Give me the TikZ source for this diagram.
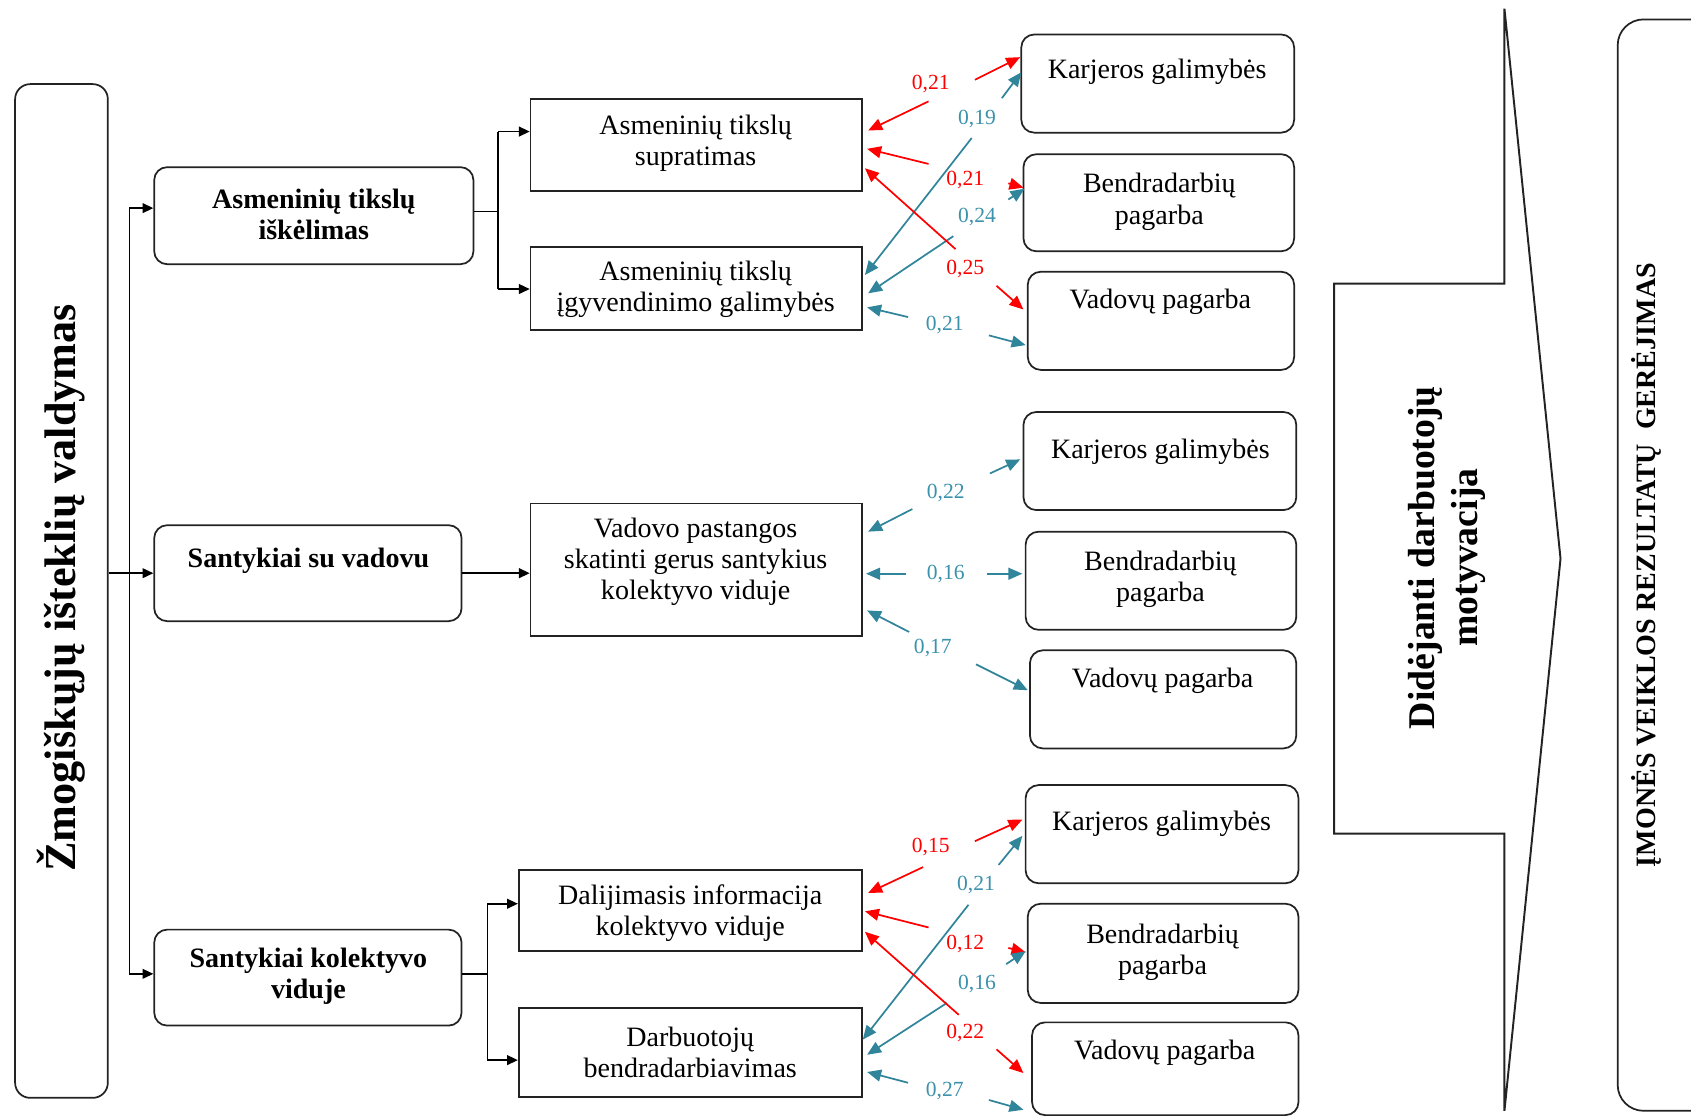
\documentclass[tikz,border=0pt]{standalone}
\usepackage{fontspec}
\setmainfont{Liberation Serif}
\usetikzlibrary{arrows.meta,fit}
\definecolor{cred}{RGB}{255,0,0}
\definecolor{cteal}{RGB}{49,133,155}
\definecolor{cteallbl}{RGB}{60,146,172}
\definecolor{cline}{RGB}{35,35,35}
\newcommand\fsmain{\fontsize{13}{14.5}\selectfont}
\newcommand\mycn[8]{%
  \coordinate (#2m) at (#3);
  \coordinate (#2a) at (#4);
  \coordinate (#2b) at (#7);
  \coordinate (#2r) at (#8);
  \draw[#1ln] (#2a) -- (#2m);
  \draw[#1ln] (#2b) -- (#2r);
  \node[#1lbl] (#2l) at (#5) {#6};
}
\begin{document}
\begin{tikzpicture}[x=0.5pt,y=-0.5pt,
  rbox/.style={draw=cline, rounded corners=6pt, line width=0.8pt, inner sep=0pt},
  sbox/.style={draw=cline, line width=0.8pt, inner sep=0pt},
  txt/.style={align=center, font=\fsmain, inner sep=0pt},
  btxt/.style={align=center, font=\fsmain\bfseries, inner sep=0pt},
  blk/.style={draw=black, line width=0.8pt},
  blkarrow/.style={blk, -{Triangle[length=5pt,width=4.5pt]}},
  redln/.style={draw=cred, line width=0.8pt, -{Triangle[length=6.5pt,width=5.5pt]}},
  tealln/.style={draw=cteal, line width=0.8pt, -{Triangle[length=6.5pt,width=5.5pt]}},
  redlbl/.style={text=cred, font=\fontsize{10}{12}\selectfont, inner sep=0pt},
  teallbl/.style={text=cteallbl, font=\fontsize{10}{12}\selectfont, inner sep=0pt},
]
\useasboundingbox (0,0) rectangle (1568,1036);
\fill[white] (0,0) rectangle (1568,1036);
\clip (0,0) rectangle (1568,1036);

% left big box
\node[rbox, rounded corners=7pt, fit={(14,78)(100,1018)}] (Lbig) {};
\node[rotate=90, inner sep=0pt, font=\fontsize{20.5}{24}\selectfont\bfseries] (Lbigt) at (57,545) {Žmogiškųjų išteklių valdymas};

% level 1 boxes
\node[rbox, fit={(143,155)(439,245)}] (L1) {};
\node[btxt] (L1t) at (291,199) {Asmeninių tikslų\\iškėlimas};
\node[rbox, fit={(143,487)(428,576)}] (L2) {};
\node[btxt] (L2t) at (286,520) {Santykiai su vadovu};
\node[rbox, fit={(143,862)(428,951)}] (L3) {};
\node[btxt] (L3t) at (286,905) {Santykiai kolektyvo\\viduje};

% level 2 boxes
\node[sbox, fit={(492,92)(799,177)}] (M1) {};
\node[txt] (M1t) at (645,133) {Asmeninių tikslų\\supratimas};
\node[sbox, fit={(492,229)(799,306)}] (M2) {};
\node[txt] (M2t) at (645,268) {Asmeninių tikslų\\įgyvendinimo galimybės};
\node[sbox, fit={(492,467)(799,590)}] (M3) {};
\node[txt] (M3t) at (645,521) {Vadovo pastangos\\skatinti gerus santykius\\kolektyvo viduje};
\node[sbox, fit={(481,807)(799,882)}] (M4) {};
\node[txt] (M4t) at (640,847) {Dalijimasis informacija\\kolektyvo viduje};
\node[sbox, fit={(481,935)(799,1017)}] (M5) {};
\node[txt] (M5t) at (640,976) {Darbuotojų\\bendradarbiavimas};

% right boxes
\node[rbox, fit={(947,32)(1200,123)}] (R1) {};
\node[txt] (R1t) at (1073,67) {Karjeros galimybės};
\node[rbox, fit={(949,143)(1200,233)}] (R2) {};
\node[txt] (R2t) at (1075,187) {Bendradarbių\\pagarba};
\node[rbox, fit={(953,252)(1200,343)}] (R3) {};
\node[txt] (R3t) at (1076,280) {Vadovų pagarba};

\node[rbox, fit={(949,382)(1202,473)}] (R4) {};
\node[txt] (R4t) at (1076,419) {Karjeros galimybės};
\node[rbox, fit={(951,493)(1202,584)}] (R5) {};
\node[txt] (R5t) at (1076,537) {Bendradarbių\\pagarba};
\node[rbox, fit={(955,603)(1202,694)}] (R6) {};
\node[txt] (R6t) at (1078,631) {Vadovų pagarba};

\node[rbox, fit={(951,728)(1204,819)}] (R7) {};
\node[txt] (R7t) at (1077,764) {Karjeros galimybės};
\node[rbox, fit={(953,838)(1204,930)}] (R8) {};
\node[txt] (R8t) at (1078,883) {Bendradarbių\\pagarba};
\node[rbox, fit={(957,948)(1204,1034)}] (R9) {};
\node[txt] (R9t) at (1080,976) {Vadovų pagarba};

% black tree connectors
\coordinate (trT) at (120,193);
\coordinate (trB) at (120,903);
\draw[blk] (trT) -- (trB);
\draw[blkarrow] (Lbig.east |- L2.west) -- (L2.west);
\draw[blkarrow] (trT) -- (L1.west |- trT);
\draw[blkarrow] (trB) -- (L3.west |- trB);

\coordinate (b1) at (462,196);
\coordinate (b1t) at (462,122);
\coordinate (b1b) at (462,268);
\draw[blk] (L1.east |- b1) -- (b1);
\draw[blk] (b1t) -- (b1b);
\draw[blkarrow] (b1t) -- (M1.west |- b1t);
\draw[blkarrow] (b1b) -- (M2.west |- b1b);

\draw[blkarrow] (L2.east) -- (M3.west |- L2.east);

\coordinate (b3) at (452,903);
\coordinate (b3t) at (452,838);
\coordinate (b3b) at (452,983);
\draw[blk] (L3.east |- b3) -- (b3);
\draw[blk] (b3t) -- (b3b);
\draw[blkarrow] (b3t) -- (M4.west |- b3t);
\draw[blkarrow] (b3b) -- (M5.west |- b3b);

% coloured connectors, group 1
\mycn{red}{c1}{805,121}{861,94}{863,78}{0,21}{904,74}{946,53}
\mycn{teal}{c2}{802,255}{901,128}{906,110}{0,19}{929,91}{947,67}
\mycn{red}{c3}{804,138}{861,152}{895,167}{0,21}{935,170}{949,174}
\mycn{teal}{c4}{805,272}{884,219}{906,201}{0,24}{935,185}{950,175}
\mycn{red}{c5}{802,156}{886,231}{895,249}{0,25}{924,265}{949,287}
\mycn{teal}{c6}{804,285}{842,294}{876,301}{0,21}{917,311}{951,320}
% group 2
\mycn{teal}{c7}{805,493}{846,472}{877,457}{0,22}{918,439}{946,426}
\mycn{teal}{c8}{803,532}{840,532}{877,532}{0,16}{915,532}{948,532}
\mycn{teal}{c9}{804,566}{843,586}{865,601}{0,17}{905,616}{953,640}
% group 3
\mycn{red}{c10}{805,828}{856,804}{863,785}{0,15}{904,780}{948,760}
\mycn{teal}{c11}{800,964}{898,839}{905,821}{0,21}{926,802}{948,775}
\mycn{red}{c12}{802,845}{861,860}{895,875}{0,12}{935,879}{951,883}
\mycn{teal}{c13}{804,978}{878,930}{906,912}{0,16}{933,894}{951,882}
\mycn{red}{c14}{802,864}{889,941}{895,958}{0,22}{924,973}{949,995}
\mycn{teal}{c15}{804,994}{842,1004}{876,1012}{0,27}{917,1020}{949,1029}

% big arrow
\draw[line width=0.9pt, draw=cline] (1237,263) -- (1395,263) -- (1395,8) -- (1447,518) -- (1395,1030) -- (1395,773) -- (1237,773) -- cycle;
\node[rotate=90, align=center, inner sep=0pt, font=\fontsize{17.5}{20}\selectfont\bfseries] (mot) at (1342,517) {Didėjanti darbuotojų\\motyvacija};

% right box
\draw[line width=0.8pt, draw=cline, rounded corners=12pt] (1500,18) rectangle (1620,1030);
\node[rotate=90, inner sep=0pt, font=\fontsize{13}{15}\selectfont\bfseries] (res) at (1527,524) {ĮMONĖS VEIKLOS REZULTATŲ\ \ GERĖJIMAS};
\end{tikzpicture}
\end{document}
